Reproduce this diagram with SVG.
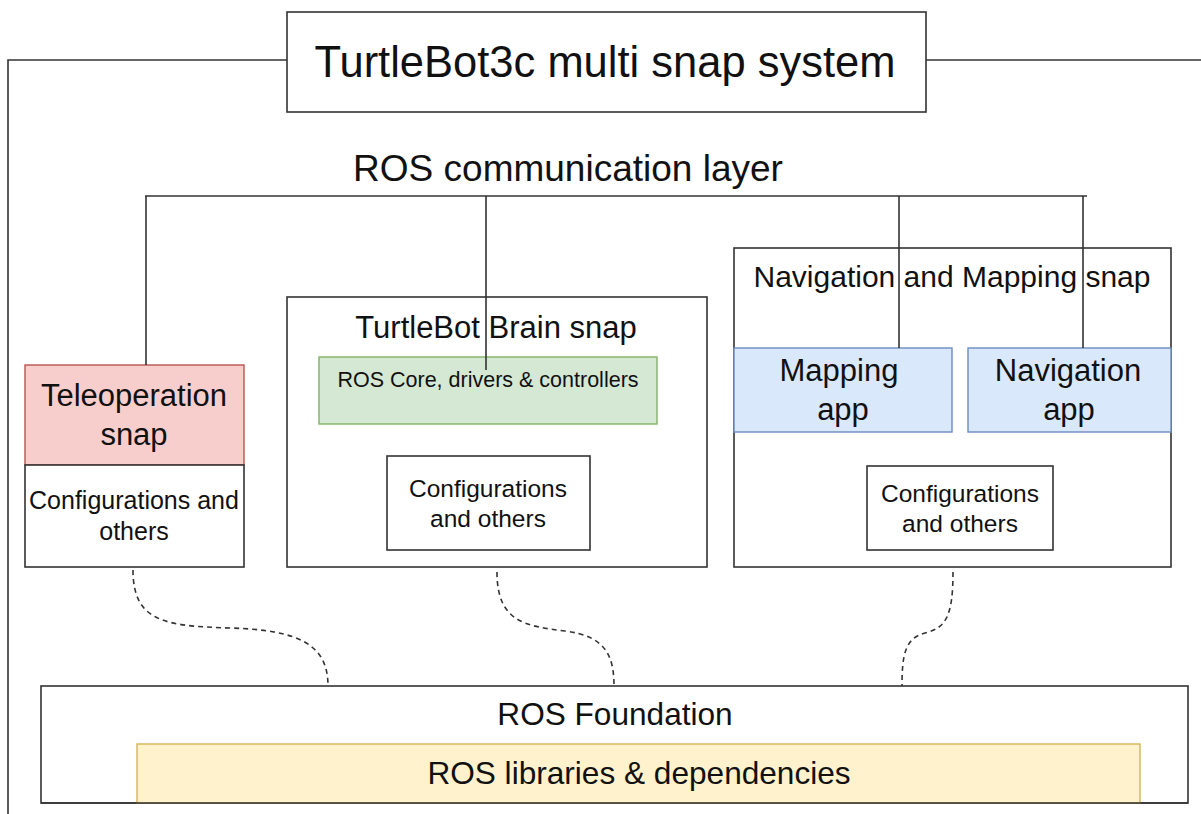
<svg xmlns="http://www.w3.org/2000/svg" width="1201" height="814" viewBox="0 0 1201 814">
<style>
.box{fill:#fff;stroke:#333;stroke-width:1.6}
.red{fill:#f8cecc;stroke:#b85450;stroke-width:1.4}
.green{fill:#d5e8d4;stroke:#82b366;stroke-width:1.4}
.blue{fill:#dae8fc;stroke:#6c8ebf;stroke-width:1.4}
.yellow{fill:#fff2cc;stroke:#d6b656;stroke-width:1.4}
.ln{fill:none;stroke:#333;stroke-width:1.6}
.dash{fill:none;stroke:#333;stroke-width:1.6;stroke-dasharray:5 4}
text{font-family:"Liberation Sans",Arial,sans-serif;fill:#111;text-anchor:middle}
.t43{font-size:43.5px}
.t37{font-size:37px}
.t31{font-size:31px}
.t30{font-size:30px}
.t32{font-size:31.6px}
.t24{font-size:24.5px}
.t25{font-size:25px}
.t22{font-size:21.5px}
</style>
<rect x="0" y="0" width="1201" height="814" fill="#fff"/>
<g id="frame">
<path class="ln" d="M8,814 V60 H287 M926,60 H1201"/>
</g>
<g id="title">
<rect class="box" x="287" y="12" width="639" height="100"/>
<text class="t43" x="605" y="77">TurtleBot3c multi snap system</text>
</g>
<g id="comm-label">
<text class="t37" x="568" y="181">ROS communication layer</text>
</g>
<g id="brain">
<rect class="box" x="287" y="297" width="420" height="270"/>
<text class="t31" x="496" y="338">TurtleBot Brain snap</text>
</g>
<g id="ros-core">
<rect class="green" x="319" y="357" width="338" height="67"/>
<text class="t22" x="488" y="387">ROS Core, drivers &amp; controllers</text>
</g>
<g id="brain-config">
<rect class="box" x="387" y="456" width="203" height="94"/>
<text class="t24" x="488" y="497">Configurations</text>
<text class="t24" x="488" y="527">and others</text>
</g>
<g id="nav-snap">
<rect class="box" x="734" y="248" width="437" height="319"/>
<text class="t30" x="952" y="287">Navigation and Mapping snap</text>
</g>
<g id="mapping-app">
<rect class="blue" x="734" y="348" width="218" height="84"/>
<text class="t31" x="839" y="381">Mapping</text>
<text class="t31" x="843" y="420">app</text>
</g>
<g id="navigation-app">
<rect class="blue" x="968" y="348" width="203" height="84"/>
<text class="t31" x="1068" y="381">Navigation</text>
<text class="t31" x="1069" y="420">app</text>
</g>
<g id="nav-config">
<rect class="box" x="867" y="466" width="186" height="84"/>
<text class="t24" x="960" y="502">Configurations</text>
<text class="t24" x="960" y="532">and others</text>
</g>
<g id="teleop">
<rect class="red" x="25" y="365" width="219" height="100"/>
<text class="t31" x="134" y="406">Teleoperation</text>
<text class="t31" x="134" y="445">snap</text>
</g>
<g id="teleop-config">
<rect class="box" x="25" y="465" width="219" height="102"/>
<text class="t25" x="134" y="509">Configurations and</text>
<text class="t25" x="134" y="540">others</text>
</g>
<g id="foundation">
<rect class="box" x="41" y="686" width="1147" height="117"/>
<text class="t32" x="615" y="725">ROS Foundation</text>
</g>
<g id="libraries">
<rect class="yellow" x="137" y="744" width="1003" height="59"/>
<path d="M41,803 H1188" stroke="#333" stroke-width="1.6"/>
<text class="t32" x="639" y="784">ROS libraries &amp; dependencies</text>
</g>
<g id="connectors">
<path class="ln" d="M145,196 H1087"/>
<path class="ln" d="M146,196 V365"/>
<path class="ln" d="M486,196 V370"/>
<path class="ln" d="M899,196 V348"/>
<path class="ln" d="M1083,196 V348"/>
<path class="dash" d="M133,570 C133,622 165,626 230,628 C300,630 328,645 328,686"/>
<path class="dash" d="M497,572 C497,622 525,626 565,631 C605,636 614,655 614,686"/>
<path class="dash" d="M953,572 C953,618 945,628 925,633 C905,638 902,655 902,686"/>
</g>
</svg>
